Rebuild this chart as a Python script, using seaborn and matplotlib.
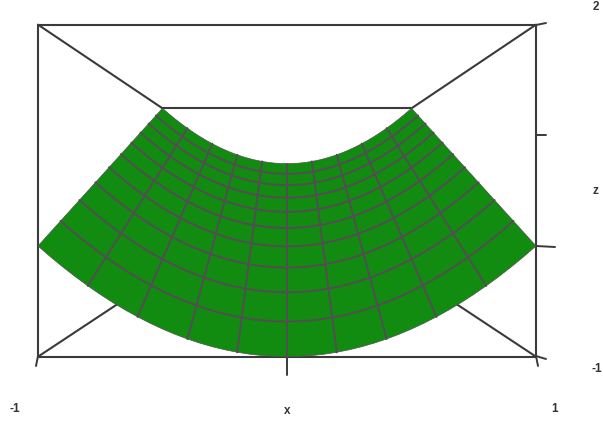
import matplotlib
matplotlib.use("Agg")
import matplotlib.pyplot as plt
import numpy as np
import pandas as pd
import seaborn as sns

x_values = [-1.0, -0.95, -0.9, -0.85, -0.8, -0.75, -0.7, -0.65, -0.6, -0.55, -0.5,
            -0.45, -0.4, -0.35, -0.3, -0.25, -0.2, -0.15, -0.1, -0.05, 0.0,
            0.05, 0.1, 0.15, 0.2, 0.25, 0.3, 0.35, 0.4, 0.45, 0.5,
            0.55, 0.6, 0.65, 0.7, 0.75, 0.8, 0.85, 0.9, 0.95, 1.0]
# height of the surface along x on the middle line (y = 0)
z_profile = [1.0, 0.9025, 0.81, 0.7225, 0.64, 0.5625, 0.49, 0.4225, 0.36, 0.3025, 0.25,
             0.2025, 0.16, 0.1225, 0.09, 0.0625, 0.04, 0.0225, 0.01, 0.0025, 0.0,
             0.0025, 0.01, 0.0225, 0.04, 0.0625, 0.09, 0.1225, 0.16, 0.2025, 0.25,
             0.3025, 0.36, 0.4225, 0.49, 0.5625, 0.64, 0.7225, 0.81, 0.9025, 1.0]
y_values = [-1.0, -0.8, -0.6, -0.4, -0.2, 0.0, 0.2, 0.4, 0.6, 0.8, 1.0]
z_ticks = [-1, 0, 1, 2]

GREEN = "#118c11"
MESH = "#505050"
BOX = "#3a3a3a"
W, H = 603, 422


def project(x, y, z):
    # same kind of perspective as persp(): back face is half the size of the front
    s = 1 / (1.5 + 0.5 * np.asarray(y, dtype=float))
    zc = 54 / 110.67
    return np.asarray(x) * s, zc + s * (np.asarray(z) - zc)


def px(xp, yp):
    # pixel position -> plot coords, for the little ticks and labels outside the box
    return (xp - 287) / 249, (246 - yp) / 110.67


sns.set_theme(style="white")
plt.rcParams["font.family"] = ["Liberation Sans", "DejaVu Sans"]

fig = plt.figure(figsize=(W / 100, H / 100), dpi=100)
ax = fig.add_axes([0, 0, 1, 1])
ax.set_xlim(px(0, 0)[0], px(W, 0)[0])
ax.set_ylim(px(0, H)[1], px(0, 0)[1])
ax.axis("off")

# box
edges = [
    ((-1, -1, -1), (1, -1, -1)), ((-1, -1, 2), (1, -1, 2)),
    ((-1, -1, -1), (-1, -1, 2)), ((1, -1, -1), (1, -1, 2)),
    ((-1, 1, 2), (1, 1, 2)),
    ((-1, -1, 2), (-1, 1, 2)), ((1, -1, 2), (1, 1, 2)),
    ((-1, -1, -1), (-1, 1, -1)), ((1, -1, -1), (1, 1, -1)),
]
box_rows = []
for i, (a, b) in enumerate(edges):
    for p in (a, b):
        u, v = project(*p)
        box_rows.append({"u": float(u), "v": float(v), "edge": i})
sns.lineplot(data=pd.DataFrame(box_rows), x="u", y="v", units="edge", estimator=None,
             sort=False, color=BOX, lw=1.5, ax=ax, legend=False, zorder=1)

# ticks
ticks = [((38, 356), (36, 366)), ((287, 356), (287, 375)), ((536, 356), (538, 366)),
         ((536, 356), (546, 359)), ((536, 246), (555, 247)),
         ((536, 135), (546, 135)), ((536, 25), (546, 23))]
tick_rows = []
for i, (a, b) in enumerate(ticks):
    for p in (a, b):
        u, v = px(*p)
        tick_rows.append({"u": u, "v": v, "tick": i})
sns.lineplot(data=pd.DataFrame(tick_rows), x="u", y="v", units="tick", estimator=None,
             sort=False, color=BOX, lw=1.4, ax=ax, legend=False, zorder=1)

# surface
X, Y = np.meshgrid(x_values, y_values)
Z = np.array(z_profile)[None, :] + np.array(y_values)[:, None]
U, V = project(X, Y, Z)
ax.fill(np.r_[U[0], U[:, -1], U[-1][::-1], U[:, 0][::-1]],
        np.r_[V[0], V[:, -1], V[-1][::-1], V[:, 0][::-1]],
        facecolor=GREEN, edgecolor=MESH, lw=0.5, zorder=2)

# mesh lines, every 4th x sample is a grid line
mesh_rows = []
for j in range(1, len(y_values) - 1):
    for i in range(len(x_values)):
        mesh_rows.append({"u": U[j, i], "v": V[j, i], "line": f"y{j}"})
for i in range(4, len(x_values) - 1, 4):
    for j in range(len(y_values)):
        mesh_rows.append({"u": U[j, i], "v": V[j, i], "line": f"x{i}"})
sns.lineplot(data=pd.DataFrame(mesh_rows), x="u", y="v", units="line", estimator=None,
             sort=False, color=MESH, lw=1.5, ax=ax, legend=False, zorder=3)

ax.set_xlabel("")
ax.set_ylabel("")

labels = [("-1", 15, 409), ("x", 287, 411), ("1", 555, 409),
          (str(z_ticks[-1]), 596, 7), ("z", 595, 191), (str(z_ticks[0]), 597, 369)]
for txt, xp, yp in labels:
    u, v = px(xp, yp)
    ax.text(u, v, txt, ha="center", va="center", fontsize=8.5, fontweight="bold",
            color="#333333")

fig.savefig("out.png", dpi=100)
